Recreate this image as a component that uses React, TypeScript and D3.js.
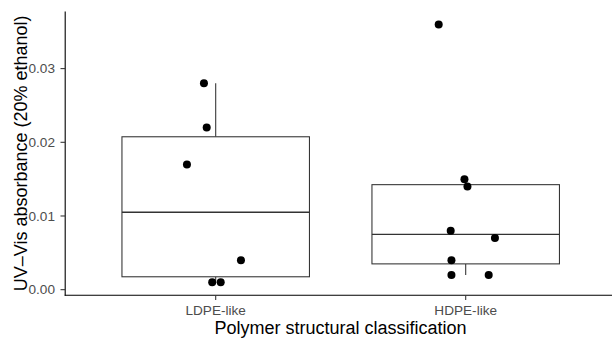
import React, { useEffect, useRef } from "react";
import * as d3 from "d3";

const categories = ["LDPE-like", "HDPE-like"];
const ldpeValues = [0.028, 0.022, 0.017, 0.004, 0.001, 0.001];
const ldpeJitter = [-0.047, -0.036, -0.115, 0.101, -0.014, 0.02];
const hdpeValues = [0.036, 0.015, 0.014, 0.008, 0.007, 0.004, 0.002, 0.002];
const hdpeJitter = [-0.108, -0.005, 0.007, -0.06, 0.117, -0.057, -0.057, 0.092];
const yTicks = [0, 0.01, 0.02, 0.03];

const App = () => {
  const svgRef = useRef<SVGSVGElement>(null);

  useEffect(() => {
    const w = 612;
    const h = 338;
    const svg = d3.select(svgRef.current)
      .attr("width", w)
      .attr("height", h);
    svg.selectAll("*").remove();

    const groups = [
      { name: categories[0], values: ldpeValues, jitter: ldpeJitter },
      { name: categories[1], values: hdpeValues, jitter: hdpeJitter },
    ];

    // discrete x with ggplot's 0.6 expansion
    const x = d3.scaleLinear().domain([0.4, 2.6]).range([65.7, 615.7]);
    const y = d3.scaleLinear().domain([-0.00075, 0.03775]).range([295.2, 11.5]);
    const font = "'Liberation Sans', Arial, sans-serif";
    const boxW = 0.375;

    groups.forEach((g, i) => {
      const cx = i + 1;
      const sorted = [...g.values].sort(d3.ascending);
      const q1 = d3.quantile(sorted, 0.25)!;
      const med = d3.quantile(sorted, 0.5)!;
      const q3 = d3.quantile(sorted, 0.75)!;
      const iqr = q3 - q1;
      const lo = d3.min(sorted.filter(v => v >= q1 - 1.5 * iqr))!;
      const hi = d3.max(sorted.filter(v => v <= q3 + 1.5 * iqr))!;

      const grp = svg.append("g").attr("stroke", "#333333").attr("stroke-width", 1.07);
      grp.append("line")
        .attr("x1", x(cx)).attr("x2", x(cx))
        .attr("y1", y(q3)).attr("y2", y(hi));
      grp.append("line")
        .attr("x1", x(cx)).attr("x2", x(cx))
        .attr("y1", y(q1)).attr("y2", y(lo));
      grp.append("rect")
        .attr("x", x(cx - boxW))
        .attr("y", y(q3))
        .attr("width", x(cx + boxW) - x(cx - boxW))
        .attr("height", y(q1) - y(q3))
        .attr("fill", "white");
      grp.append("line")
        .attr("x1", x(cx - boxW)).attr("x2", x(cx + boxW))
        .attr("y1", y(med)).attr("y2", y(med))
        .attr("stroke-width", 1.4);

      // jittered points
      svg.selectAll(null)
        .data(g.values)
        .join("circle")
        .attr("cx", (d, j) => x(cx + g.jitter[j]))
        .attr("cy", d => y(d))
        .attr("r", 4)
        .attr("fill", "black");
    });

    // axes
    const axisColor = "black";
    svg.append("line")
      .attr("x1", 65.2).attr("x2", 65.2)
      .attr("y1", 11.5).attr("y2", 295.7)
      .attr("stroke", axisColor).attr("stroke-width", 1.1);
    svg.append("line")
      .attr("x1", 64.7).attr("x2", w)
      .attr("y1", 295.2).attr("y2", 295.2)
      .attr("stroke", axisColor).attr("stroke-width", 1.1);

    svg.selectAll(null)
      .data(yTicks)
      .join("line")
      .attr("x1", 60.5).attr("x2", 65)
      .attr("y1", d => y(d)).attr("y2", d => y(d))
      .attr("stroke", "#333333").attr("stroke-width", 1.07);
    svg.selectAll(null)
      .data(yTicks)
      .join("text")
      .text(d => d3.format(".2f")(d))
      .attr("x", 55)
      .attr("y", d => y(d))
      .attr("dy", "0.35em")
      .attr("text-anchor", "end")
      .attr("font-family", font)
      .attr("font-size", 13.6)
      .attr("fill", "#4D4D4D");

    svg.selectAll(null)
      .data(categories)
      .join("line")
      .attr("x1", (d, i) => x(i + 1)).attr("x2", (d, i) => x(i + 1))
      .attr("y1", 295.5).attr("y2", 300)
      .attr("stroke", "#333333").attr("stroke-width", 1.07);
    svg.selectAll(null)
      .data(categories)
      .join("text")
      .text(d => d)
      .attr("x", (d, i) => x(i + 1))
      .attr("y", 314.7)
      .attr("text-anchor", "middle")
      .attr("font-family", font)
      .attr("font-size", 13.6)
      .attr("fill", "#4D4D4D");

    // axis titles
    svg.append("text")
      .text("Polymer structural classification")
      .attr("x", (65.2 + 615.7) / 2)
      .attr("y", 333.7)
      .attr("text-anchor", "middle")
      .attr("font-family", font)
      .attr("font-size", 18)
      .attr("fill", "black");
    svg.append("text")
      .text("UV\u2013Vis absorbance (20% ethanol)")
      .attr("transform", `translate(26.5,${(11.5 + 295.2) / 2}) rotate(-90)`)
      .attr("text-anchor", "middle")
      .attr("font-family", font)
      .attr("font-size", 18)
      .attr("fill", "black");
  }, []);

  return (
    <div style={{ position: "absolute", left: 0, top: 0 }}>
      <svg ref={svgRef} style={{ display: "block" }}></svg>
    </div>
  );
};

export default App;
